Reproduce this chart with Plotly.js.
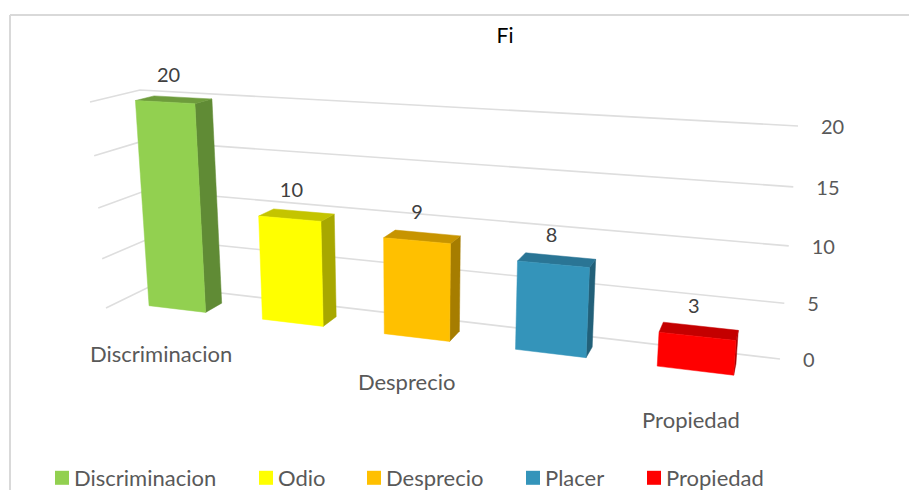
<!DOCTYPE html>
<html>
<head>
<meta charset="utf-8">
<script src="https://cdn.plot.ly/plotly-3.0.1.min.js"></script>
<style>html,body{margin:0;padding:0;background:#fff;overflow:hidden}</style>
</head>
<body>
<div id="chart" style="width:909px;height:490px"></div>
<script>
// ---- data ----
const categories = ["Discriminacion", "Odio", "Desprecio", "Placer", "Propiedad"];
const values = [20, 10, 9, 8, 3];
const axisTicks = [0, 5, 10, 15, 20];
const axisMax = 20;
const titleText = "Fi";
const shownCategoryLabels = ["Discriminacion", "", "Desprecio", "", "Propiedad"];
const frontColors = ["#92D050", "#FFFF00", "#FFC000", "#3494BA", "#FF0000"];
const sideColors = ["#608B35", "#A8A800", "#A67D00", "#226079", "#A80000"];
const topColors = ["#6E9C3C", "#C4C400", "#C79400", "#2A7595", "#C40000"];
const legendStarts = [55, 259, 367, 526, 647];

// ---- view: the 3D box seen in perspective ----
const W = 909, H = 490;
const floorBox = {bl:[153,285], br:[780,359], fl:[106,308], fr:[777,388]};
const roofBox  = {bl:[140,90],  br:[798,126], fl:[90,102],  fr:[796,138]};
const warpU = 1.21, warpV = 1.06;
const barHalf = 0.05, depthBack = 0.35, depthFront = 0.74, slot = 0.197;
const FONT = "Lato, sans-serif";

const persp = (t, r) => t / (t + r * (1 - t));
const mix = (a, b, t) => [a[0] + (b[0]-a[0])*t, a[1] + (b[1]-a[1])*t];
const slotCentre = i => 0.5 + (i - 2) * slot;
function project(u, d, v) {
  const s = persp(u, warpU), t = persp(v / axisMax, warpV);
  const bottom = mix(mix(floorBox.bl, floorBox.br, s), mix(floorBox.fl, floorBox.fr, s), d);
  const top = mix(mix(roofBox.bl, roofBox.br, s), mix(roofBox.fl, roofBox.fr, s), d);
  return mix(bottom, top, t);
}
function poly(points, color) {
  const closed = points.concat([points[0]]);
  return {type:"scatter", mode:"lines", x:closed.map(p=>p[0]), y:closed.map(p=>p[1]),
    fill:"toself", fillcolor:color, line:{color:color, width:0.5},
    hoverinfo:"skip", showlegend:false};
}
const traces = [];

// gridlines on the side wall and back wall
axisTicks.forEach(v => {
  const pts = [project(0,1,v), project(0,0,v), project(1,0,v)];
  traces.push({type:"scatter", mode:"lines", x:pts.map(p=>p[0]), y:pts.map(p=>p[1]),
    line:{color:"#DEDEDE", width:1.6}, hoverinfo:"skip", showlegend:false});
});

// bars
values.forEach((val, i) => {
  const c = slotCentre(i), l = c - barHalf, r = c + barHalf;
  const P = project;
  traces.push(poly([P(r,depthFront,0), P(r,depthBack,0), P(r,depthBack,val), P(r,depthFront,val)], sideColors[i]));
  traces.push(poly([P(l,depthFront,val), P(r,depthFront,val), P(r,depthBack,val), P(l,depthBack,val)], topColors[i]));
  traces.push(poly([P(l,depthFront,0), P(r,depthFront,0), P(r,depthFront,val), P(l,depthFront,val)], frontColors[i]));
});

// value labels
const lab = values.map((v, i) => project(slotCentre(i), 0.55, v));
traces.push({type:"scatter", mode:"text", x:lab.map(p=>p[0]-5), y:lab.map(p=>p[1]-23),
  text:values.map(String), textposition:"middle center",
  textfont:{family:FONT, size:20, color:"#404040"}, hoverinfo:"skip", showlegend:false});

// value axis labels
const tk = axisTicks.map(v => project(1, 0, v));
traces.push({type:"scatter", mode:"text", x:tk.map(p=>p[0]+23), y:tk.map(p=>p[1]+3),
  text:axisTicks.map(String), textposition:"middle right",
  textfont:{family:FONT, size:20, color:"#595959"}, hoverinfo:"skip", showlegend:false});

// category labels
const catPts = categories.map((c, i) => project(slotCentre(i), depthFront, 0));
traces.push({type:"scatter", mode:"text",
  x:catPts.map((p,i)=>p[0]-16+3*i), y:catPts.map((p,i)=>p[1]+47+(i-2)*i*0.6),
  text:shownCategoryLabels, textposition:"middle center",
  textfont:{family:FONT, size:22, color:"#595959"}, hoverinfo:"skip", showlegend:false});

// legend entries, each in its own legend so that it sits at its own place
const layoutLegends = {};
categories.forEach((name, i) => {
  const key = i === 0 ? "legend" : "legend" + (i + 1);
  traces.push({type:"scatter", mode:"markers", x:[null], y:[null], name:name,
    marker:{symbol:"square", size:14, color:frontColors[i]}, legend:key, showlegend:true, hoverinfo:"skip"});
  layoutLegends[key] = {x:(legendStarts[i]-13)/W, xanchor:"left", y:1-(457/H), yanchor:"top",
    orientation:"v", bgcolor:"rgba(0,0,0,0)", borderwidth:0,
    font:{family:FONT, size:22, color:"#595959"}};
});

const layout = Object.assign({
  width:W, height:H, margin:{l:0,r:0,t:0,b:0,autoexpand:false}, paper_bgcolor:"#fff", plot_bgcolor:"#fff",
  showlegend:true,
  title:{text:titleText, x:505/W, xanchor:"center", y:1-(36/H), yanchor:"middle",
    font:{family:FONT, size:21, color:"#000"}},
  xaxis:{range:[0,W], visible:false, fixedrange:true},
  yaxis:{range:[H,0], visible:false, fixedrange:true},
  shapes:[
    {type:"line", xref:"x", yref:"y", x0:10, y0:490, x1:10, y1:15, line:{color:"#D9D9D9", width:2}},
    {type:"line", xref:"x", yref:"y", x0:10, y0:15, x1:909, y1:15, line:{color:"#D9D9D9", width:2}}
  ]
}, layoutLegends);

// the reference keeps legend text closer to its swatch than the default gap
function tightenLegendText() {
  document.querySelectorAll('#chart text[class^="legend"]').forEach(t => t.setAttribute("x", 32));
}
Plotly.newPlot("chart", traces, layout, {displayModeBar:false, staticPlot:true}).then(gd => {
  tightenLegendText();
  gd.on("plotly_afterplot", tightenLegendText);
});
</script>
</body>
</html>
